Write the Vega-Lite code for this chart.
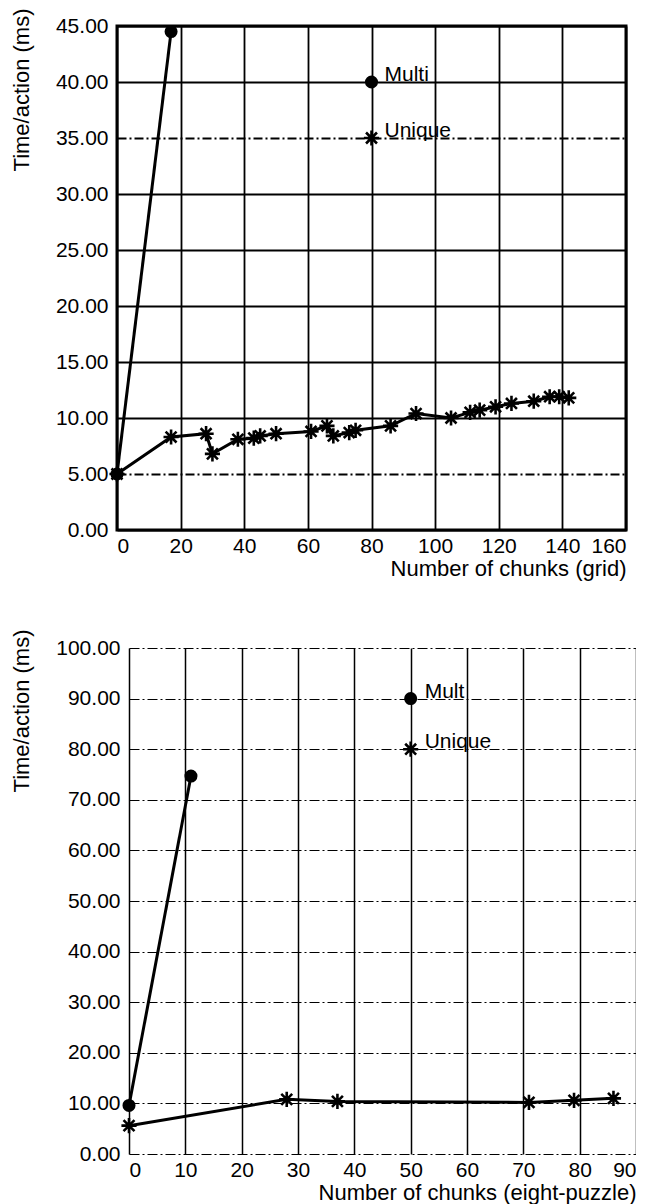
{
  "$schema": "https://vega.github.io/schema/vega-lite/v6.json",
  "padding": {"left": 8, "top": 6, "right": 0, "bottom": 1},
  "spacing": 47,
  "config": {
    "font": "Liberation Sans",
    "view": {"stroke": "black", "strokeWidth": 3},
    "axis": {
      "labelFont": "Liberation Sans", "labelFontSize": 21, "labelColor": "black",
      "titleFont": "Liberation Sans", "titleFontSize": 22, "titleFontWeight": "normal", "titleColor": "black",
      "ticks": false, "domain": false, "gridColor": "black", "gridOpacity": 1
    },
    "axisX": {"labelPadding": 5, "titlePadding": 2},
    "axisY": {"labelPadding": 9, "titlePadding": 22}
  },
  "datasets": {
    "grid": [
      {"x": 0, "y": 5.0, "series": "Multi"},
      {"x": 17, "y": 44.5, "series": "Multi"},
      {"x": 0, "y": 5.0, "series": "Unique"},
      {"x": 17, "y": 8.3, "series": "Unique"},
      {"x": 28, "y": 8.6, "series": "Unique"},
      {"x": 30, "y": 6.8, "series": "Unique"},
      {"x": 38, "y": 8.1, "series": "Unique"},
      {"x": 43, "y": 8.2, "series": "Unique"},
      {"x": 45, "y": 8.4, "series": "Unique"},
      {"x": 50, "y": 8.6, "series": "Unique"},
      {"x": 61, "y": 8.8, "series": "Unique"},
      {"x": 66, "y": 9.3, "series": "Unique"},
      {"x": 68, "y": 8.4, "series": "Unique"},
      {"x": 73, "y": 8.7, "series": "Unique"},
      {"x": 75, "y": 8.9, "series": "Unique"},
      {"x": 86, "y": 9.3, "series": "Unique"},
      {"x": 94, "y": 10.4, "series": "Unique"},
      {"x": 105, "y": 10.0, "series": "Unique"},
      {"x": 111, "y": 10.5, "series": "Unique"},
      {"x": 114, "y": 10.7, "series": "Unique"},
      {"x": 119, "y": 11.0, "series": "Unique"},
      {"x": 124, "y": 11.3, "series": "Unique"},
      {"x": 131, "y": 11.5, "series": "Unique"},
      {"x": 136, "y": 11.9, "series": "Unique"},
      {"x": 139, "y": 11.9, "series": "Unique"},
      {"x": 142, "y": 11.8, "series": "Unique"}
    ],
    "gridLegend": [
      {"x": 80, "y": 40, "series": "Multi", "label": "Multi"},
      {"x": 80, "y": 35, "series": "Unique", "label": "Unique"}
    ],
    "puzzle": [
      {"x": 0, "y": 9.6, "series": "Multi"},
      {"x": 11, "y": 74.7, "series": "Multi"},
      {"x": 0, "y": 5.6, "series": "Unique"},
      {"x": 28, "y": 10.8, "series": "Unique"},
      {"x": 37, "y": 10.4, "series": "Unique"},
      {"x": 71, "y": 10.2, "series": "Unique"},
      {"x": 79, "y": 10.6, "series": "Unique"},
      {"x": 86, "y": 11.0, "series": "Unique"}
    ],
    "puzzleLegend": [
      {"x": 50, "y": 90, "series": "Multi", "label": "Mult"},
      {"x": 50, "y": 80, "series": "Unique", "label": "Unique"}
    ]
  },
  "vconcat": [
    {
      "width": 509,
      "height": 504,
      "encoding": {
        "x": {"field": "x", "type": "quantitative", "scale": {"domain": [0, 160]},
          "axis": {"values": [0, 20, 40, 60, 80, 100, 120, 140, 160], "title": "Number of chunks (grid)", "titleAnchor": "end", "gridWidth": 1.8}},
        "y": {"field": "y", "type": "quantitative", "scale": {"domain": [0, 45]},
          "axis": {"values": [0, 5, 10, 15, 20, 25, 30, 35, 40, 45], "format": ".2f", "title": "Time/action (ms)", "titleAnchor": "end", "titleY": -18, "gridWidth": 1.8,
            "gridDash": {"condition": {"test": "datum.value === 35 || datum.value === 5", "value": [9, 3, 2, 3]}, "value": []}}}
      },
      "layer": [
        {"data": {"name": "grid"}, "mark": {"type": "line", "color": "black", "strokeWidth": 3}, "encoding": {"detail": {"field": "series"}}},
        {"data": {"name": "grid"}, "transform": [{"filter": "datum.series === 'Multi'"}], "mark": {"type": "point", "shape": "circle", "filled": true, "color": "black", "size": 170, "opacity": 1}},
        {"data": {"name": "grid"}, "transform": [{"filter": "datum.series === 'Unique'"}], "mark": {"type": "point", "shape": "M-1,0L1,0M0,-1L0,1M-0.72,-0.72L0.72,0.72M-0.72,0.72L0.72,-0.72", "filled": false, "color": "black", "strokeWidth": 2.6, "size": 230, "opacity": 1}},
        {"data": {"name": "gridLegend"}, "transform": [{"filter": "datum.series === 'Multi'"}], "mark": {"type": "point", "shape": "circle", "filled": true, "color": "black", "size": 170, "opacity": 1}},
        {"data": {"name": "gridLegend"}, "transform": [{"filter": "datum.series === 'Unique'"}], "mark": {"type": "point", "shape": "M-1,0L1,0M0,-1L0,1M-0.72,-0.72L0.72,0.72M-0.72,0.72L0.72,-0.72", "filled": false, "color": "black", "strokeWidth": 2.6, "size": 230, "opacity": 1}},
        {"data": {"name": "gridLegend"}, "mark": {"type": "text", "align": "left", "baseline": "alphabetic", "dx": 13, "dy": -1, "fontSize": 21, "color": "black"}, "encoding": {"text": {"field": "label"}}}
      ]
    },
    {
      "width": 519,
      "height": 506,
      "view": {"stroke": null},
      "encoding": {
        "x": {"field": "x", "type": "quantitative", "scale": {"domain": [0, 90], "range": [12, 519]},
          "axis": {"values": [0, 10, 20, 30, 40, 50, 60, 70, 80, 90], "title": "Number of chunks (eight-puzzle)", "titleAnchor": "end", "gridWidth": 1.5}},
        "y": {"field": "y", "type": "quantitative", "scale": {"domain": [0, 100]},
          "axis": {"values": [0, 10, 20, 30, 40, 50, 60, 70, 80, 90, 100], "format": ".2f", "title": "Time/action (ms)", "titleAnchor": "end", "titleY": -19, "offset": -12, "gridWidth": 1.2, "gridDash": [10, 3, 2, 3]}}
      },
      "layer": [
        {"data": {"values": [{}]}, "mark": {"type": "rect", "filled": false, "color": "black", "strokeWidth": 3},
          "encoding": {"x": {"datum": 0, "type": "quantitative"}, "x2": {"datum": 90}, "y": {"datum": 0, "type": "quantitative"}, "y2": {"datum": 100}}},
        {"data": {"name": "puzzle"}, "mark": {"type": "line", "color": "black", "strokeWidth": 3}, "encoding": {"detail": {"field": "series"}}},
        {"data": {"name": "puzzle"}, "transform": [{"filter": "datum.series === 'Multi'"}], "mark": {"type": "point", "shape": "circle", "filled": true, "color": "black", "size": 170, "opacity": 1}},
        {"data": {"name": "puzzle"}, "transform": [{"filter": "datum.series === 'Unique'"}], "mark": {"type": "point", "shape": "M-1,0L1,0M0,-1L0,1M-0.72,-0.72L0.72,0.72M-0.72,0.72L0.72,-0.72", "filled": false, "color": "black", "strokeWidth": 2.6, "size": 230, "opacity": 1}},
        {"data": {"name": "puzzleLegend"}, "transform": [{"filter": "datum.series === 'Multi'"}], "mark": {"type": "point", "shape": "circle", "filled": true, "color": "black", "size": 170, "opacity": 1}},
        {"data": {"name": "puzzleLegend"}, "transform": [{"filter": "datum.series === 'Unique'"}], "mark": {"type": "point", "shape": "M-1,0L1,0M0,-1L0,1M-0.72,-0.72L0.72,0.72M-0.72,0.72L0.72,-0.72", "filled": false, "color": "black", "strokeWidth": 2.6, "size": 230, "opacity": 1}},
        {"data": {"name": "puzzleLegend"}, "mark": {"type": "text", "align": "left", "baseline": "alphabetic", "dx": 14, "dy": -1, "fontSize": 21, "color": "black"}, "encoding": {"text": {"field": "label"}}}
      ]
    }
  ]
}
